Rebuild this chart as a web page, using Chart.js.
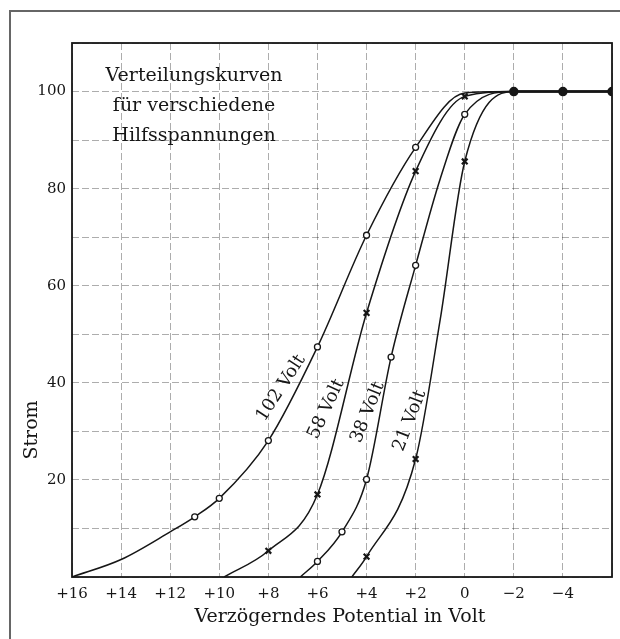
<!DOCTYPE html>
<html>
<head>
<meta charset="utf-8">
<script src="https://cdn.jsdelivr.net/npm/chart.js@4.4.1/dist/chart.umd.min.js"></script>
<style>
    html, body { margin: 0; padding: 0; background: #fff; }
    #wrap { position: relative; width: 620px; height: 639px; }
    #frame { position: absolute; left: 9px; top: 10px; right: -4px; bottom: -4px; border-left: 2px solid #666; border-top: 2px solid #666; pointer-events: none; }
</style>
</head>
<body>
<div id="wrap">
    <canvas id="verteilung" width="620" height="639"></canvas>
    <div id="frame"></div>
</div>
<script>
// ========================================
// Verteilungskurven - Strom gegen verzögerndes Potential
// ========================================

const titleLines = ['Verteilungskurven', 'für verschiedene', 'Hilfsspannungen'];
const xAxisTitle = 'Verzögerndes Potential in Volt';
const yAxisTitle = 'Strom';

const xTicks = [16, 14, 12, 10, 8, 6, 4, 2, 0, -2, -4];
const yTicks = [20, 40, 60, 80, 100];

const curveNames = ['102 Volt', '58 Volt', '38 Volt', '21 Volt'];

// Kurve 102 Volt (Kreise)
const pot102 = [16, 14, 12, 11, 10, 8, 6, 4, 2, 0, -2, -4, -6];
const strom102 = [0, 3.6, 9.3, 12.4, 16.2, 28.1, 47.4, 70.4, 88.5, 99.7, 100, 100, 100];
const marks102 = [11, 10, 8, 6, 4, 2];

// Kurve 58 Volt (Kreuze)
const pot58 = [9.8, 8, 6, 4, 2, 0, -2, -4, -6];
const strom58 = [0, 5.4, 17, 54.4, 83.6, 99, 100, 100, 100];
const marks58 = [8, 6, 4, 2, 0];

// Kurve 38 Volt (Kreise)
const pot38 = [6.7, 6, 5, 4, 3, 2, 1, 0, -2, -4, -6];
const strom38 = [0, 3.2, 9.3, 20.1, 45.3, 64.2, 82, 95.3, 100, 100, 100];
const marks38 = [6, 5, 4, 3, 2, 0];

// Kurve 21 Volt (Kreuze)
const pot21 = [4.6, 4, 2, 1, 0, -2, -4, -6];
const strom21 = [0, 4.2, 24.3, 53, 85.6, 100, 100, 100];
const marks21 = [4, 2, 0];

// gemeinsame Sättigung
const potSatt = [-2, -4, -6];
const stromSatt = [100, 100, 100];

// Beschriftung der Kurven (Lage in Datenwerten, Winkel in Grad)
const nameX = [7.48, 5.64, 3.95, 2.24];
const nameY = [38.9, 34.6, 33.9, 32.2];
const nameAngle = [-57, -65, -68, -69];

const ink = '#161616';
const serif = '"DejaVu Serif", "Liberation Serif", serif';

function toPoints(xs, ys) {
    return xs.map((v, i) => ({ x: v, y: ys[i] }));
}

function curve(xs, ys, marks, style) {
    return {
        data: toPoints(xs, ys),
        borderColor: ink,
        borderWidth: 1.5,
        cubicInterpolationMode: 'monotone',
        pointStyle: style,
        pointRadius: (c) => marks.includes(c.raw.x) ? (style === 'circle' ? 3 : 4) : 0,
        pointBackgroundColor: '#fff',
        pointBorderColor: ink,
        pointBorderWidth: style === 'circle' ? 1.3 : 2.2,
        order: 2
    };
}

function formatVolt(v) {
    if (!xTicks.includes(v)) return '';
    if (v > 0) return '+' + v;
    if (v < 0) return '\u2212' + Math.abs(v);
    return '0';
}

const annotate = {
    id: 'annotate',
    afterDraw(chart) {
        const { ctx, chartArea: a, scales: { x, y } } = chart;
        ctx.save();

        // Rahmen
        ctx.strokeStyle = ink;
        ctx.lineWidth = 1.8;
        ctx.strokeRect(a.left, a.top, a.right - a.left, a.bottom - a.top);

        ctx.fillStyle = ink;
        ctx.textAlign = 'center';
        ctx.textBaseline = 'middle';

        // Überschrift im Diagramm
        ctx.font = '19px ' + serif;
        titleLines.forEach((t, i) => {
            ctx.fillText(t, a.left + 122, a.top + 33 + i * 30);
        });

        // Achsentitel
        ctx.fillText(xAxisTitle, (a.left + a.right) / 2 - 2, a.bottom + 40);
        ctx.save();
        ctx.translate(32, a.bottom - 147);
        ctx.rotate(-Math.PI / 2);
        ctx.fillText(yAxisTitle, 0, 0);
        ctx.restore();

        // Kurvennamen
        ctx.font = '18px ' + serif;
        curveNames.forEach((name, i) => {
            ctx.save();
            ctx.translate(x.getPixelForValue(nameX[i]), y.getPixelForValue(nameY[i]));
            ctx.rotate(nameAngle[i] * Math.PI / 180);
            ctx.fillText(name, 0, 0);
            ctx.restore();
        });

        ctx.restore();
    }
};

const gridStyle = {
    color: 'rgba(0, 0, 0, 0.32)',
    lineWidth: 1,
    drawTicks: false
};

new Chart(document.getElementById('verteilung').getContext('2d'), {
    type: 'line',
    data: {
        datasets: [
            curve(pot102, strom102, marks102, 'circle'),
            curve(pot58, strom58, marks58, 'crossRot'),
            curve(pot38, strom38, marks38, 'circle'),
            curve(pot21, strom21, marks21, 'crossRot'),
            {
                data: toPoints(potSatt, stromSatt),
                borderColor: ink,
                borderWidth: 2.5,
                pointRadius: 3.5,
                pointBackgroundColor: ink,
                pointBorderColor: ink,
                order: 1
            }
        ]
    },
    options: {
        responsive: false,
        animation: false,
        devicePixelRatio: 1,
        layout: { padding: { top: 43, right: 8, left: 0, bottom: 0 } },
        plugins: {
            legend: { display: false },
            tooltip: { enabled: false }
        },
        scales: {
            x: {
                type: 'linear',
                reverse: true,
                min: -6,
                max: 16,
                afterFit: (s) => { s.height = 62; },
                ticks: {
                    stepSize: 2,
                    autoSkip: false,
                    maxRotation: 0,
                    padding: 8,
                    color: ink,
                    font: { family: serif, size: 15 },
                    callback: formatVolt
                },
                grid: gridStyle,
                border: { display: false, dash: [7, 3] }
            },
            y: {
                min: 0,
                max: 110,
                afterFit: (s) => { s.width = 72; },
                ticks: {
                    stepSize: 10,
                    autoSkip: false,
                    padding: 6,
                    color: ink,
                    font: { family: serif, size: 15 },
                    callback: (v) => yTicks.includes(v) ? String(v) : ''
                },
                grid: gridStyle,
                border: { display: false, dash: [7, 3] }
            }
        }
    },
    plugins: [annotate]
});
</script>
</body>
</html>
